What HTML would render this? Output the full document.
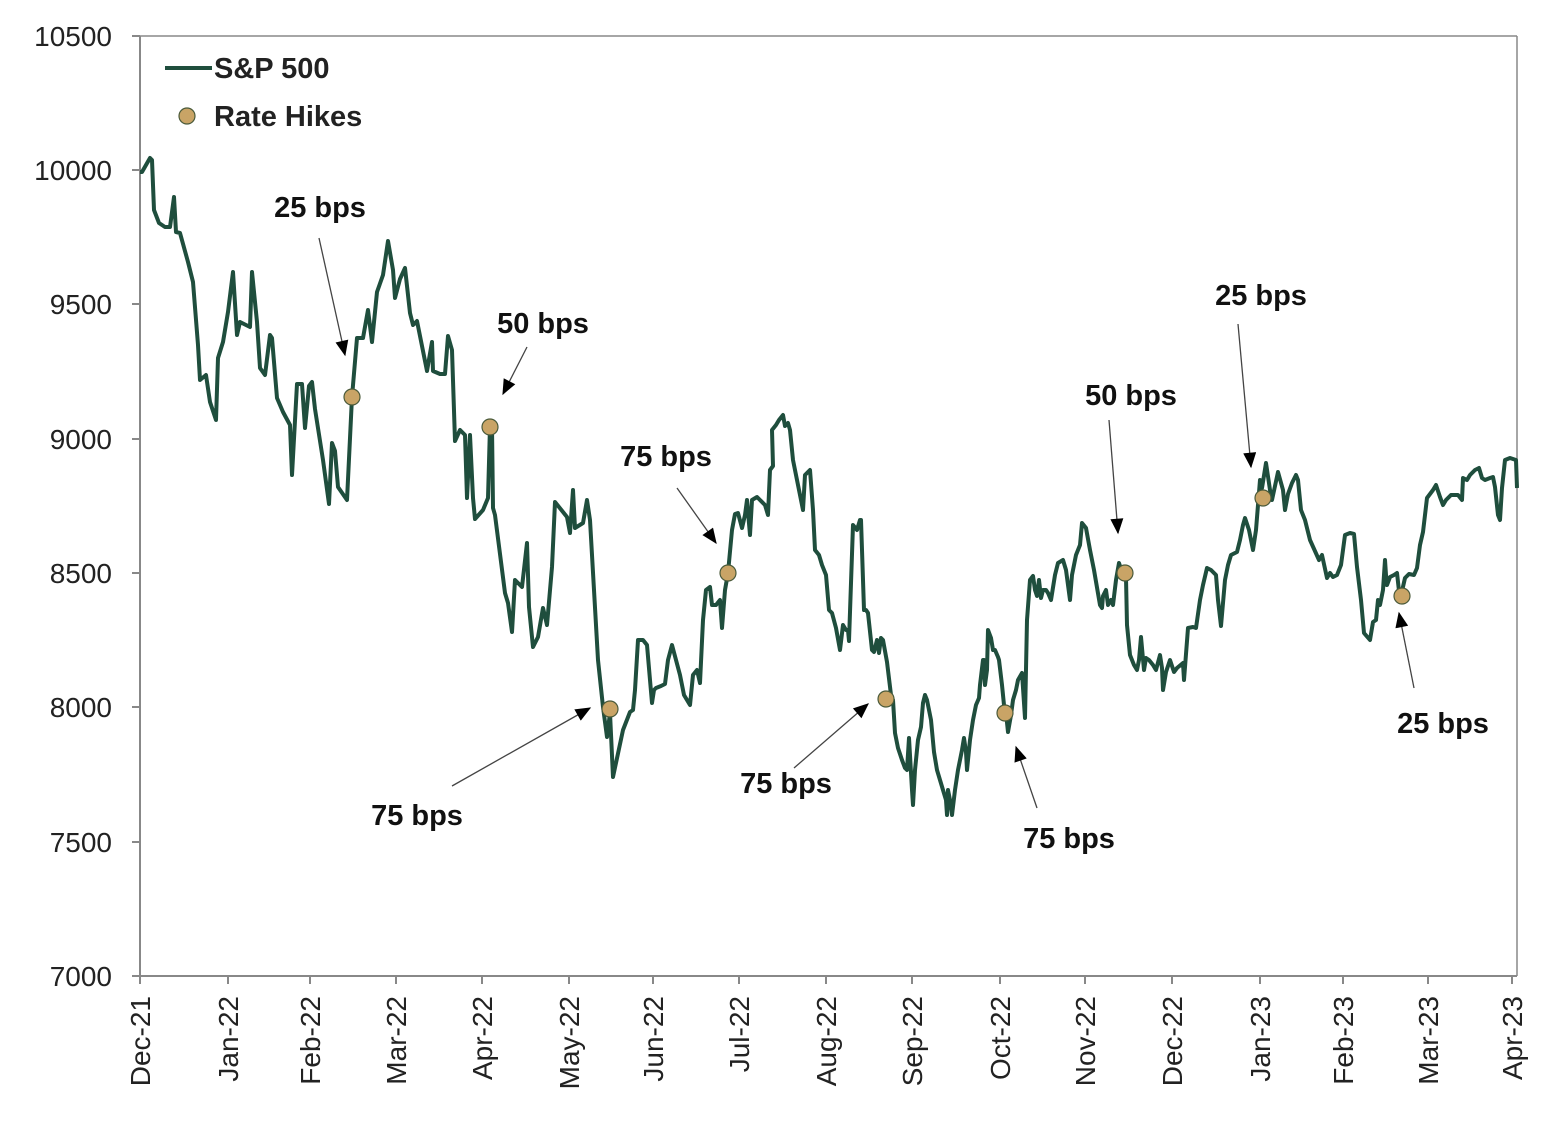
<!DOCTYPE html>
<html><head><meta charset="utf-8"><style>
html,body{margin:0;padding:0;background:#fff;}
svg{display:block;font-family:"Liberation Sans",Arial,sans-serif;}
</style></head><body>
<svg width="1550" height="1130" viewBox="0 0 1550 1130" xmlns="http://www.w3.org/2000/svg">
<defs>
<marker id="a2" viewBox="0 0 12 10" markerWidth="16" markerHeight="13" refX="11" refY="5" orient="auto" markerUnits="userSpaceOnUse"><path d="M0,0 L12,5 L0,10 z" fill="#000"/></marker></defs>
<line x1="140" y1="36" x2="1517" y2="36" stroke="#888" stroke-width="1.5"/>
<line x1="1517" y1="36" x2="1517" y2="976" stroke="#888" stroke-width="1.5"/>
<line x1="140" y1="36" x2="140" y2="976" stroke="#888" stroke-width="2"/>
<line x1="140" y1="976" x2="1517" y2="976" stroke="#888" stroke-width="2"/>
<g stroke="#888" stroke-width="2">
<line x1="132" y1="36" x2="140" y2="36"/><line x1="132" y1="170" x2="140" y2="170"/><line x1="132" y1="304" x2="140" y2="304"/><line x1="132" y1="439" x2="140" y2="439"/><line x1="132" y1="573" x2="140" y2="573"/><line x1="132" y1="707" x2="140" y2="707"/><line x1="132" y1="842" x2="140" y2="842"/><line x1="132" y1="976" x2="140" y2="976"/>
<line x1="140" y1="976" x2="140" y2="984"/><line x1="228" y1="976" x2="228" y2="984"/><line x1="310" y1="976" x2="310" y2="984"/><line x1="396" y1="976" x2="396" y2="984"/><line x1="482" y1="976" x2="482" y2="984"/><line x1="569" y1="976" x2="569" y2="984"/><line x1="653" y1="976" x2="653" y2="984"/><line x1="739" y1="976" x2="739" y2="984"/><line x1="826" y1="976" x2="826" y2="984"/><line x1="912" y1="976" x2="912" y2="984"/><line x1="1000" y1="976" x2="1000" y2="984"/><line x1="1085" y1="976" x2="1085" y2="984"/><line x1="1172" y1="976" x2="1172" y2="984"/><line x1="1260" y1="976" x2="1260" y2="984"/><line x1="1343" y1="976" x2="1343" y2="984"/><line x1="1428" y1="976" x2="1428" y2="984"/><line x1="1512" y1="976" x2="1512" y2="984"/>
</g>
<g font-size="28" fill="#222" text-anchor="end">
<text x="112" y="46">10500</text><text x="112" y="180">10000</text><text x="112" y="314">9500</text><text x="112" y="449">9000</text><text x="112" y="583">8500</text><text x="112" y="717">8000</text><text x="112" y="852">7500</text><text x="112" y="986">7000</text>
</g>
<g font-size="28" fill="#222" text-anchor="end">
<text transform="translate(150,996) rotate(-90)">Dec-21</text>
<text transform="translate(238,996) rotate(-90)">Jan-22</text>
<text transform="translate(320,996) rotate(-90)">Feb-22</text>
<text transform="translate(406,996) rotate(-90)">Mar-22</text>
<text transform="translate(492,996) rotate(-90)">Apr-22</text>
<text transform="translate(579,996) rotate(-90)">May-22</text>
<text transform="translate(663,996) rotate(-90)">Jun-22</text>
<text transform="translate(749,996) rotate(-90)">Jul-22</text>
<text transform="translate(836,996) rotate(-90)">Aug-22</text>
<text transform="translate(922,996) rotate(-90)">Sep-22</text>
<text transform="translate(1010,996) rotate(-90)">Oct-22</text>
<text transform="translate(1095,996) rotate(-90)">Nov-22</text>
<text transform="translate(1182,996) rotate(-90)">Dec-22</text>
<text transform="translate(1270,996) rotate(-90)">Jan-23</text>
<text transform="translate(1353,996) rotate(-90)">Feb-23</text>
<text transform="translate(1438,996) rotate(-90)">Mar-23</text>
<text transform="translate(1522,996) rotate(-90)">Apr-23</text>
</g>
<polyline fill="none" stroke="#1f4e3d" stroke-width="4" stroke-linejoin="round" points="140,172 142,172 150,158 152,160 154,210 159,223 165,227 170,227 174,197 176,232 180,233 188,262 193,282 198,345 200,380 206,375 210,402 216,420 218,358 223,342 228,312 233,272 237,335 240,322 250,327 252,272 257,322 260,368 265,375 270,335 272,338 277,398 283,412 290,425 292,475 297,384 302,384 305,428 309,386 312,382 315,409 323,460 329,504 332,443 335,451 338,487 347,500 352,397 357,338 363,338 368,310 372,342 377,292 383,275 388,241 393,270 395,298 400,279 405,268 410,313 413,325 417,321 422,346 427,371 432,342 433,371 440,374 445,374 448,336 452,350 455,441 460,430 465,435 467,498 470,435 473,498 475,519 483,510 488,498 490,426 492,427 493,508 495,515 505,593 508,603 512,632 515,580 522,587 527,543 529,607 533,647 538,637 543,608 547,625 552,567 555,502 567,517 570,533 573,490 575,528 583,523 587,500 590,520 598,660 603,707 607,737 610,713 613,777 623,730 630,712 633,710 635,690 638,640 643,640 647,645 650,680 652,703 654,690 656,688 661,686 665,684 668,660 672,645 676,660 680,675 684,695 690,705 693,675 697,670 700,683 703,620 706,590 710,587 712,605 716,605 720,600 722,628 725,590 728,573 732,530 735,514 738,513 742,528 745,515 747,500 750,535 752,500 757,497 760,500 765,505 768,515 770,470 773,466 772,430 776,425 779,420 783,415 785,426 788,423 790,430 793,460 797,480 801,500 803,510 805,475 810,470 813,510 815,550 819,555 822,565 826,575 829,610 832,613 836,628 840,650 843,625 846,630 848,630 849,641 853,525 857,530 860,520 861,520 862,550 864,610 866,610 868,613 872,650 874,652 877,640 879,653 881,638 883,640 887,662 891,695 893,700 895,733 898,748 902,760 905,768 907,770 909,738 912,790 913,805 915,770 918,740 921,727 923,703 925,695 927,700 929,710 931,720 934,752 937,770 940,780 943,790 946,800 947,815 948,790 950,800 952,815 955,790 958,770 960,760 962,750 964,738 966,752 967,770 970,740 973,720 976,705 979,698 980,685 983,660 984,660 985,685 987,670 988,630 991,638 993,650 995,650 998,657 999,660 1002,685 1004,705 1006,713 1008,732 1011,715 1013,700 1016,690 1018,680 1022,673 1025,718 1027,620 1030,580 1033,576 1035,590 1037,596 1039,580 1041,598 1043,590 1046,590 1048,593 1051,600 1055,575 1058,563 1063,560 1066,570 1070,600 1072,575 1076,555 1080,545 1082,523 1086,528 1090,550 1094,570 1100,605 1102,608 1103,596 1106,590 1108,605 1111,600 1113,605 1116,580 1119,563 1123,575 1126,578 1127,625 1130,655 1134,665 1137,670 1139,660 1141,637 1144,670 1146,658 1149,660 1153,665 1156,670 1160,655 1162,668 1163,690 1166,672 1170,660 1174,672 1177,668 1183,663 1184,680 1188,628 1193,627 1196,628 1200,600 1203,585 1207,568 1211,570 1216,575 1218,600 1221,626 1225,580 1228,565 1231,555 1237,552 1240,540 1243,525 1245,518 1249,530 1253,550 1256,530 1260,480 1262,488 1266,463 1270,490 1272,500 1278,472 1283,490 1285,510 1288,494 1292,483 1296,475 1298,480 1301,510 1305,520 1310,540 1319,560 1322,555 1327,578 1330,573 1333,577 1337,575 1341,565 1345,535 1350,533 1354,534 1357,567 1361,600 1364,633 1370,640 1373,622 1376,620 1378,600 1380,605 1383,590 1385,560 1386,575 1387,585 1390,577 1394,575 1397,573 1400,600 1405,578 1409,574 1414,575 1417,568 1420,545 1423,532 1427,498 1433,490 1436,485 1440,497 1443,505 1446,500 1451,495 1458,495 1462,500 1463,478 1467,480 1470,475 1475,470 1479,468 1482,478 1485,480 1490,478 1493,477 1495,487 1498,515 1500,520 1502,488 1505,460 1510,458 1516,460 1517,488"/>
<g fill="#c9a466" stroke="#4a5a3a" stroke-width="1.2">
<circle cx="352" cy="397" r="8"/><circle cx="490" cy="427" r="8"/><circle cx="610" cy="709" r="8"/><circle cx="728" cy="573" r="8"/><circle cx="886" cy="699" r="8"/><circle cx="1005" cy="713" r="8"/><circle cx="1125" cy="573" r="8"/><circle cx="1263" cy="498" r="8"/><circle cx="1402" cy="596" r="8"/>
</g>
<g stroke="#444" stroke-width="1.3" marker-end="url(#a2)">
<line x1="319" y1="238" x2="345" y2="355"/>
<line x1="527" y1="347" x2="503" y2="394"/>
<line x1="452" y1="786" x2="590" y2="708"/>
<line x1="677" y1="488" x2="716" y2="543"/>
<line x1="794" y1="768" x2="868" y2="704"/>
<line x1="1037" y1="808" x2="1016" y2="747"/>
<line x1="1109" y1="420" x2="1118" y2="533"/>
<line x1="1238" y1="324" x2="1251" y2="467"/>
<line x1="1414" y1="688" x2="1399" y2="613"/>
</g>
<g font-size="29" font-weight="bold" fill="#111" text-anchor="middle">
<text x="320" y="217">25 bps</text>
<text x="543" y="333">50 bps</text>
<text x="666" y="466">75 bps</text>
<text x="417" y="825">75 bps</text>
<text x="786" y="793">75 bps</text>
<text x="1069" y="848">75 bps</text>
<text x="1131" y="405">50 bps</text>
<text x="1261" y="305">25 bps</text>
<text x="1443" y="733">25 bps</text>
</g>
<line x1="165" y1="68" x2="212" y2="68" stroke="#1f4e3d" stroke-width="4"/>
<text x="214" y="78" font-size="29" font-weight="bold" fill="#222">S&amp;P 500</text>
<circle cx="187" cy="116" r="8" fill="#c9a466" stroke="#4a5a3a" stroke-width="1.2"/>
<text x="214" y="126" font-size="29" font-weight="bold" fill="#222">Rate Hikes</text>
</svg>
</body></html>
